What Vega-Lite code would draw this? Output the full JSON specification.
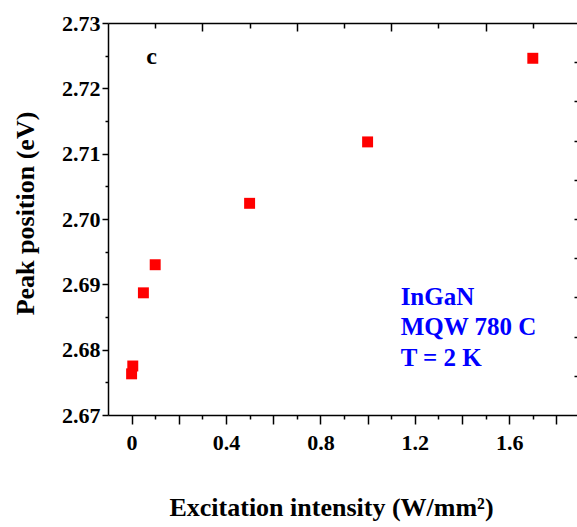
{
  "$schema": "https://vega.github.io/schema/vega-lite/v6.json",
  "width": 472,
  "height": 392,
  "autosize": {"type": "none"},
  "padding": {"left": 108, "top": 23, "right": 0, "bottom": 112},
  "background": "white",
  "config": {
    "view": {"stroke": null},
    "axis": {"grid": false, "domainColor": "black", "tickColor": "black", "domainWidth": 1.5, "tickWidth": 1.5,
      "labelFont": "Liberation Serif", "labelFontWeight": "bold", "labelColor": "black", "labelFontSize": 22,
      "titleFont": "Liberation Serif", "titleFontWeight": "bold", "titleColor": "black", "titleFontSize": 26}
  },
  "resolve": {"axis": {"x": "independent", "y": "independent"}},
  "layer": [
    {
      "data": {"values": [
        {"intensity": 0.0, "peak": 2.6763},
        {"intensity": 0.005, "peak": 2.6775},
        {"intensity": 0.05, "peak": 2.6887},
        {"intensity": 0.1, "peak": 2.6930},
        {"intensity": 0.5, "peak": 2.7024},
        {"intensity": 1.0, "peak": 2.7118},
        {"intensity": 1.7, "peak": 2.7246}
      ]},
      "mark": {"type": "point", "shape": "square", "filled": true, "color": "#ff0000", "opacity": 1, "size": 120},
      "encoding": {
        "x": {"field": "intensity", "type": "quantitative",
          "scale": {"domain": [-0.1, 1.9], "nice": false, "zero": false},
          "axis": {"orient": "bottom", "title": "Excitation intensity (W/mm²)",
            "values": [0, 0.1, 0.2, 0.3, 0.4, 0.5, 0.6, 0.7, 0.8, 0.9, 1.0, 1.1, 1.2, 1.3, 1.4, 1.5, 1.6, 1.7, 1.8],
            "tickSize": {"condition": {"test": "round(datum.value*10) % 2 === 0", "value": 9}, "value": 4},
            "labelExpr": "round(datum.value*10) % 4 === 0 ? (datum.value === 0 ? '0' : format(datum.value, '.1f')) : ''",
            "labelPadding": 8,
            "titleX": 223, "titleY": 92, "titleAlign": "center", "titleBaseline": "middle", "titleAnchor": null}
        },
        "y": {"field": "peak", "type": "quantitative",
          "scale": {"domain": [2.67, 2.73], "nice": false, "zero": false},
          "axis": {"orient": "left", "title": "Peak position (eV)",
            "values": [2.67, 2.675, 2.68, 2.685, 2.69, 2.695, 2.70, 2.705, 2.71, 2.715, 2.72, 2.725, 2.73],
            "tickSize": {"condition": {"test": "round(datum.value*1000) % 10 === 0", "value": 6}, "value": 3},
            "labelExpr": "round(datum.value*1000) % 10 === 0 ? format(datum.value, '.2f') : ''",
            "labelPadding": 2,
            "titleX": -83, "titleY": 190, "titleAngle": -90, "titleAlign": "center", "titleBaseline": "middle"}
        }
      }
    },
    {
      "data": {"values": [
        {"intensity": 1.14, "peak": 2.6880, "label": "InGaN"},
        {"intensity": 1.14, "peak": 2.6834, "label": "MQW 780 C"},
        {"intensity": 1.14, "peak": 2.6788, "label": "T = 2 K"}
      ]},
      "mark": {"type": "text", "font": "Liberation Serif", "fontWeight": "bold", "fontSize": 25, "baseline": "middle", "align": "left", "color": "#0000ff"},
      "encoding": {
        "x": {"field": "intensity", "type": "quantitative",
          "axis": {"orient": "top", "title": null, "labels": false,
            "values": [0.1, 0.3, 0.5, 0.7, 0.9, 1.1, 1.3, 1.5, 1.7],
            "tickSize": {"condition": {"test": "round(datum.value*10) % 4 === 3", "value": -8}, "value": -5}}
        },
        "y": {"field": "peak", "type": "quantitative",
          "axis": {"orient": "right", "title": null, "labels": false,
            "values": [2.676, 2.682, 2.688, 2.694, 2.700, 2.706, 2.712, 2.718, 2.724],
            "tickSize": -6}
        },
        "text": {"field": "label"}
      }
    },
    {
      "data": {"values": [
        {"intensity": 0.085, "peak": 2.7248, "label": "c"}
      ]},
      "mark": {"type": "text", "font": "Liberation Serif", "fontWeight": "bold", "fontSize": 24, "baseline": "middle", "align": "center", "color": "black"},
      "encoding": {
        "x": {"field": "intensity", "type": "quantitative", "axis": null},
        "y": {"field": "peak", "type": "quantitative", "axis": null},
        "text": {"field": "label"}
      }
    }
  ]
}
